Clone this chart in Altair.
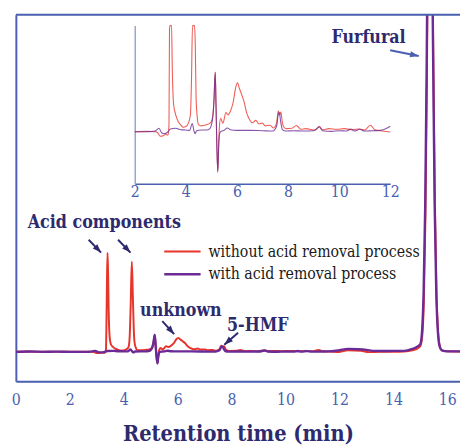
import altair as alt
import pandas as pd

# ---- data ----
time_red = [0.0, 0.5, 1.0, 1.5, 2.0, 2.5, 2.8, 2.9, 3.0, 3.1, 3.2, 3.3, 3.34, 3.36, 3.38, 3.40, 3.42, 3.44, 3.47, 3.52,
            3.6, 3.7, 3.8, 3.9, 4.0, 4.1, 4.18, 4.22, 4.26, 4.30, 4.34, 4.37, 4.40, 4.45, 4.5, 4.6, 4.8, 4.95, 5.0,
            5.06, 5.1, 5.15, 5.18, 5.21, 5.25, 5.28, 5.31, 5.36, 5.45, 5.57, 5.65, 5.75, 5.85, 5.95, 6.02, 6.1, 6.2,
            6.28, 6.38, 6.47, 6.6, 6.74, 6.85, 7.0, 7.1, 7.3, 7.43, 7.55, 7.62, 7.67, 7.72, 7.78, 7.85, 7.95, 8.15,
            8.33, 8.5, 8.7, 9.0, 9.1, 9.22, 9.35, 9.6, 9.9, 10.2, 10.5, 10.8, 11.0, 11.22, 11.4, 11.7, 12.0, 12.3,
            12.8, 13.1, 13.5, 14.0, 14.4, 14.7, 14.9, 15.0, 15.07, 15.13, 15.19, 15.24, 15.28, 15.32, 15.36, 15.40,
            15.44, 15.49, 15.54, 15.60, 15.66, 15.73, 15.8, 16.0, 16.5]
value_red = [0, 0.3, 0, 0.2, 0, 0.1, 0, -0.3, -1.3, -1.2, -0.8, -1.0, 2, 30, 75, 100.7, 80, 45, 18, 8,
             5, 3, 2, 1.3, 1.5, 2.5, 5, 15, 50, 91.7, 55, 25, 10, 4, 2, 1.7, 2, 2.5, 3,
             5, 9, 17.3, 8, -3, -11.5, -5, 1, 3.9, 2.5, 5.6, 4.9, 6.1, 8.5, 12.8, 14.2, 12.5, 10.5,
             8.7, 5.5, 3.9, 2.6, 3.3, 2.3, 2.5, 1.7, 1.9, 1.1, 2.5, 6.1, 4.8, 5.7, 2.5, 1.2, 0.9, 1.0,
             1.8, 0.7, 0.9, 0.5, 0.6, 1.6, 0.6, 0.9, 0.7, 0.9, 0.6, 0.8, 0.5, 1.9, 0.6, 0.2, -0.1, 1.5,
             1.0, -0.3, 0, 0, 0.3, 1.5, 3.5, 6, 16, 52, 140, 270, 410, 550, 615, 560,
             420, 280, 150, 60, 20, 5, 1.5, 0.5, 0.3]

time_purple = [0.0, 0.5, 1.0, 1.5, 2.0, 2.5, 2.8, 2.95, 3.05, 3.15, 3.3, 3.4, 3.6, 3.8, 4.0, 4.15, 4.25, 4.32, 4.36,
               4.42, 4.6, 4.8, 4.95, 5.0, 5.06, 5.1, 5.15, 5.18, 5.21, 5.25, 5.28, 5.32, 5.4, 5.5, 5.62, 5.75, 6.0,
               6.5, 7.0, 7.4, 7.55, 7.62, 7.66, 7.71, 7.78, 7.9, 8.2, 8.6, 9.0, 9.22, 9.35, 9.7, 10.0, 10.3, 10.45,
               10.6, 10.8, 11.0, 11.3, 11.6, 11.8, 12.0, 12.3, 12.7, 13.0, 13.3, 13.8, 14.2, 14.4, 14.7, 14.9, 15.0,
               15.06, 15.12, 15.18, 15.23, 15.27, 15.31, 15.35, 15.39, 15.43, 15.48, 15.53, 15.59, 15.65, 15.72,
               15.8, 16.0, 16.5]
value_purple = [0, 0.3, 0, 0.2, 0, 0, 0.2, 1.0, -0.3, -0.6, 0, 0.8, 1.0, 0.6, 0.5, 0.4, 2.4, 0.2, -0.6,
                0.3, 0.5, 0.5, 1.0, 2, 4.5, 9, 17.3, 8, -3, -11.8, -5, -0.5, 0.2, 0.4, 1.1, 0.6, 0.4,
                0.4, 0.3, 0.2, 1.5, 5.2, 5.6, 3, 0.6, 0.2, 0.3, 0.2, 0.3, 1.4, 0.3, 0.1, 0.3, 0.2, 0.8,
                0.2, 0.7, 0.2, 0.3, 0.4, 0.8, 1.6, 3.0, 2.6, 2.0, 1.0, 0.8, 1.0, 1, 3, 5.5, 8,
                20, 60, 150, 280, 420, 560, 620, 560, 420, 280, 150, 60, 20, 5,
                1.5, 0.5, 0.5]

series_names = ["without acid removal process", "with acid removal process"]

label_text = ["Acid components", "unknown", "5-HMF", "Furfural"]
label_t = [3.28, 6.12, 8.97, 13.08]
label_v = [131, 41, 26, 319]

arrow_t_tail = [2.70, 3.79, 5.43, 8.24, 13.88]
arrow_v_tail = [114, 114, 31.3, 19.3, 307]
arrow_t_head = [3.16, 4.25, 5.87, 7.73, 14.94]
arrow_v_head = [101, 101, 18, 7.3, 301]
arrow_angle = [136, 136, 138, 229, 102]

main_ticks = [0, 2, 4, 6, 8, 10, 12, 14, 16]
inset_ticks = [2, 4, 6, 8, 10, 12]

# ---- styles ----
RED = "#e8352b"
PURPLE = "#6b2a95"
BLUE = "#4a5fb0"
NAVY = "#2d2a6e"
LIGHTBLUE = "#9aa5d0"
SERIF = "DejaVu Serif Condensed, DejaVu Serif"
W, H = 452, 373

red_df = pd.DataFrame({"t": time_red, "v": value_red})
pur_df = pd.DataFrame({"t": time_purple, "v": value_purple})
lab_df = pd.DataFrame({"t": label_t, "v": label_v, "text": label_text})
arr_df = pd.DataFrame({"t": arrow_t_tail, "v": arrow_v_tail, "t2": arrow_t_head, "v2": arrow_v_head,
                       "angle": arrow_angle,
                       "col": [NAVY, NAVY, NAVY, NAVY, BLUE]})
one = pd.DataFrame({"k": [0]})

xmain = alt.X("t:Q", scale=alt.Scale(domain=[0, 16.47], nice=False, zero=False),
              axis=alt.Axis(values=main_ticks, ticks=False, labelFlush=False, labelFont=SERIF,
                            labelFontSize=16, labelColor=BLUE, labelPadding=11,
                            domainColor=BLUE, domainWidth=2, title="Retention time (min)",
                            titleFont=SERIF, titleFontSize=22, titleFontWeight="bold",
                            titleColor=NAVY, titlePadding=16))
ymain = alt.Y("v:Q", scale=alt.Scale(domain=[-30, 343], nice=False, zero=False),
              axis=alt.Axis(labels=False, ticks=False, title=None, domainColor=BLUE, domainWidth=2))

red_main = alt.Chart(red_df).mark_line(color=RED, strokeWidth=2, clip=True,
                                       interpolate="monotone").encode(x=xmain, y=ymain)
pur_main = alt.Chart(pur_df).mark_line(color=PURPLE, strokeWidth=2.4, clip=True,
                                       interpolate="monotone").encode(x="t:Q", y="v:Q")

arrow_lines = alt.Chart(arr_df).mark_rule(strokeWidth=2).encode(
    x="t:Q", y="v:Q", x2="t2:Q", y2="v2:Q", color=alt.Color("col:N", scale=None))
arrow_heads = alt.Chart(arr_df).mark_point(filled=True, opacity=1, size=64,
                                           shape="M0,0L0.8,2.2L-0.8,2.2Z").encode(
    x="t2:Q", y="v2:Q", angle=alt.Angle("angle:Q", scale=None), color=alt.Color("col:N", scale=None))

labels = alt.Chart(lab_df).mark_text(font=SERIF, fontSize=18, fontWeight="bold", color=NAVY,
                                     align="center", baseline="middle").encode(
    x="t:Q", y="v:Q", text="text:N")

top_border = alt.Chart(one).mark_rule(color=BLUE, strokeWidth=2).encode(
    x=alt.value(0), x2=alt.value(W), y=alt.value(0))

leg_red = alt.Chart(one).mark_rule(color=RED, strokeWidth=2).encode(
    x=alt.value(151), x2=alt.value(188), y=alt.value(241))
leg_pur = alt.Chart(one).mark_rule(color=PURPLE, strokeWidth=2.5).encode(
    x=alt.value(151), x2=alt.value(188), y=alt.value(264))
leg_t1 = alt.Chart(one).mark_text(font=SERIF, fontSize=16, color="#1a1a1a", align="left",
                                  baseline="middle", text=series_names[0]).encode(
    x=alt.value(196), y=alt.value(241))
leg_t2 = alt.Chart(one).mark_text(font=SERIF, fontSize=16, color="#1a1a1a", align="left",
                                  baseline="middle", text=series_names[1]).encode(
    x=alt.value(196), y=alt.value(264))

main = alt.layer(red_main, pur_main, arrow_lines, arrow_heads, labels, top_border,
                 leg_red, leg_pur, leg_t1, leg_t2)

# ---- inset ----
xin = alt.X("t:Q", scale=alt.Scale(domain=[2, 12], range=[121, 381], nice=False, zero=False),
            axis=alt.Axis(orient="bottom", offset=-201, values=inset_ticks, ticks=False,
                          labelFlush=False, labelFont=SERIF, labelFontSize=16, labelColor=BLUE,
                          labelPadding=0, domainColor=BLUE, domainWidth=1.5, title=None))
yin = alt.Y("v:Q", scale=alt.Scale(domain=[-15.14, 30.86], range=[172, 11], nice=False,
                                   zero=False, clamp=True),
            axis=alt.Axis(orient="left", offset=-121, labels=False, ticks=False, title=None,
                          domainColor=LIGHTBLUE, domainWidth=1.5))

red_in = alt.Chart(red_df).transform_filter("datum.t >= 2 && datum.t <= 12").mark_line(
    color=RED, strokeWidth=1.1, opacity=0.8, interpolate="monotone").encode(x=xin, y=yin)
pur_in = alt.Chart(pur_df).transform_filter("datum.t >= 2 && datum.t <= 12").mark_line(
    color=PURPLE, strokeWidth=1.1, opacity=0.8, interpolate="monotone").encode(x="t:Q", y="v:Q")

inset = alt.layer(red_in, pur_in)

chart = alt.layer(main, inset).resolve_scale(x="independent", y="independent").properties(
    width=W, height=H, padding={"left": 8, "top": 3, "right": 0, "bottom": 66},
    autosize=alt.AutoSizeParams(type="none")
).configure_axis(grid=False).configure_view(stroke=None)

chart.save("out.html", embed_options={"renderer": "svg", "actions": False})
